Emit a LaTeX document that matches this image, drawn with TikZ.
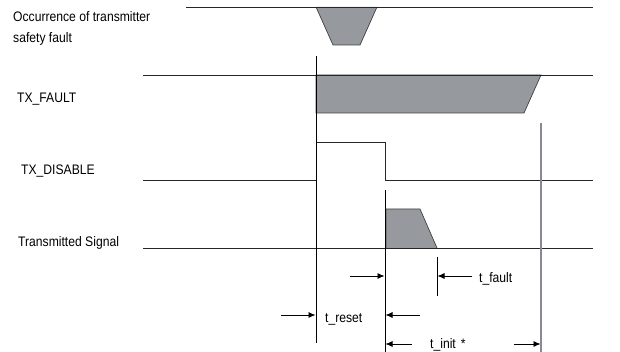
\documentclass[tikz,border=0pt]{standalone}
\usepackage{fontspec}
\setmainfont{Liberation Sans}[FakeStretch=0.88]
\usetikzlibrary{arrows.meta}
\definecolor{sigfill}{RGB}{150,154,158}
\definecolor{markgray}{RGB}{135,138,142}
\tikzset{
  wave/.style={line width=0.9pt, black!85},
  pulse/.style={fill=sigfill, draw=black!75, line width=0.7pt, line join=miter},
  marker/.style={line width=0.8pt, black},
  graymarker/.style={line width=1.1pt, markgray},
  dim/.style={-{Latex[length=7pt,width=6pt]}, line width=0.8pt},
  lbl/.style={anchor=base west, inner sep=0pt, font=\fontsize{13.8}{16}\selectfont}
}
\begin{document}
\begin{tikzpicture}[x=1pt,y=-1pt]
\useasboundingbox (0,0) rectangle (620,352);

% time references
\coordinate (tfault) at (316,0);
\coordinate (treset) at (385,0);
\coordinate (tend)   at (437,0);
\coordinate (tinit)  at (541,0);

% signal names
\node[lbl] (occ1) at (13,22) {Occurrence of transmitter};
\node[lbl] (occ2) at (13,43) {safety fault};
\node[lbl] (txf)  at (17,103) {TX\_FAULT};
\node[lbl] (txd)  at (21,175) {TX\_DISABLE};
\node[lbl] (txs)  at (18,247) {Transmitted Signal};

% shaded pulses
\filldraw[pulse] (316,7) -- (333,45) -- (360,45) -- (377,7);
\filldraw[pulse] (316,75) -- (541,75) -- (524,113) -- (316,113) -- cycle;
\filldraw[pulse] (386,248) -- (386,209) -- (420,209) -- (437,248);

% waveforms
\draw[wave] (186,7) -- (593,7);
\draw[wave] (143,75) -- (593,75);
\draw[wave] (143,180) -- (316,180) -- (316,142) -- (385,142) -- (385,180) -- (593,180);
\draw[wave] (143,248) -- (593,248);

% timing markers
\draw[marker] (316,56) -- (316,343);
\draw[marker] (385,190) -- (385,352);
\draw[marker] (437,257) -- (437,296);
\draw[graymarker] (541,123) -- (541,352);

% dimension arrows
\draw[dim] (350,276) -- (384.5,276);
\draw[dim] (472,276) -- (437.5,276);
\node[lbl] (lfault) at (479,283) {t\_fault};
\draw[dim] (281,315) -- (315.5,315);
\draw[dim] (420,315) -- (385.5,315);
\node[lbl] (lreset) at (325,322) {t\_reset};
\draw[dim] (412,344) -- (385.5,344);
\draw[dim] (514,344) -- (540.5,344);
\node[lbl] (linit) at (430,348.5) {t\_init\hspace{5pt}*};
\end{tikzpicture}
\end{document}
